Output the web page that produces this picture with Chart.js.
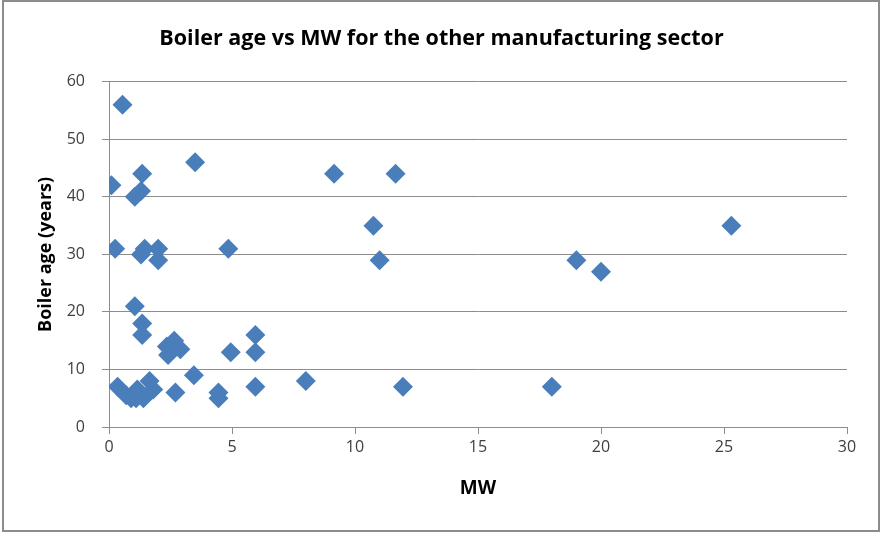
<!DOCTYPE html>
<html>
<head>
<meta charset="utf-8">
<script src="https://cdn.jsdelivr.net/npm/chart.js@4"></script>
<style>
  html, body { margin: 0; padding: 0; background: #fff; }
  #wrap { width: 883px; height: 533px; position: relative; }
</style>
</head>
<body>
<div id="wrap"><canvas id="chart" width="883" height="533"></canvas></div>
<script>
// MW (x) and boiler age in years (y)
const mw = [
  0.55, 0.1, 1.35, 1.3, 1.05, 3.5, 0.25, 1.45, 1.3, 2.0,
  2.0, 4.85, 1.05, 1.35, 1.35, 2.65, 2.35, 2.9, 2.4, 4.95,
  5.95, 5.95, 5.95, 3.45, 2.7, 4.45, 4.45, 0.35, 0.7, 0.9,
  1.1, 1.15, 1.4, 1.65, 1.8, 8, 9.15, 11.65, 10.75, 11,
  11.95, 18, 19, 20, 25.3
];
const age = [
  56, 42, 44, 41, 40, 46, 31, 31, 30, 31,
  29, 31, 21, 18, 16, 15, 14, 13.5, 12.5, 13,
  16, 13, 7, 9, 6, 6, 5, 7, 5.5, 5,
  5, 6.5, 5, 8, 6.5, 8, 44, 44, 35, 29,
  7, 7, 29, 27, 35
];
const xTicks = [0, 5, 10, 15, 20, 25, 30];
const yTicks = [0, 10, 20, 30, 40, 50, 60];

const points = mw.map((x, i) => ({ x: x, y: age[i] }));

const frame = {
  id: "frame",
  beforeDraw(chart) {
    const ctx = chart.ctx;
    ctx.save();
    ctx.fillStyle = "#fff";
    ctx.fillRect(0, 0, chart.width, chart.height);
    ctx.restore();
  },
  afterDraw(chart) {
    const ctx = chart.ctx;
    ctx.save();
    ctx.strokeStyle = "#8c8c8c";
    ctx.lineWidth = 2;
    ctx.strokeRect(3, 1, 876, 530);
    ctx.restore();
  }
};

const ctx = document.getElementById("chart").getContext("2d");
new Chart(ctx, {
  type: "scatter",
  data: {
    datasets: [{
      label: "Boiler age",
      data: points,
      pointStyle: "rectRot",
      pointRadius: 10,
      pointHoverRadius: 10,
      backgroundColor: "#4a7ebb",
      borderColor: "#4a7ebb",
      borderWidth: 0
    }]
  },
  options: {
    responsive: false,
    animation: false,
    layout: { padding: 0 },
    plugins: {
      legend: { display: false },
      tooltip: { enabled: false },
      title: {
        display: true,
        text: "Boiler age vs MW for the other manufacturing sector",
        color: "#000",
        font: { family: "Open Sans", size: 21.5, weight: "bold" },
        padding: { top: 26, bottom: 30 }
      }
    },
    scales: {
      x: {
        type: "linear",
        min: 0,
        max: 30,
        afterBuildTicks: s => { s.ticks = xTicks.map(v => ({ value: v })); },
        afterFit: s => { s.height = 106; },
        grid: { drawOnChartArea: false, drawTicks: true, tickLength: 7, color: "#8c8c8c" },
        border: { color: "#8c8c8c" },
        ticks: { color: "#404040", padding: 4, font: { family: "Open Sans", size: 16 } },
        title: {
          display: true,
          text: "MW",
          color: "#000",
          font: { family: "Open Sans", size: 19, weight: "bold" },
          padding: { top: 0, bottom: 33 }
        }
      },
      y: {
        type: "linear",
        min: 0,
        max: 60,
        afterBuildTicks: s => { s.ticks = yTicks.map(v => ({ value: v })); },
        afterFit: s => { s.width = 109; },
        grid: { color: "#8c8c8c", tickLength: 7 },
        border: { color: "#8c8c8c" },
        ticks: { color: "#404040", padding: 17, font: { family: "Open Sans", size: 16 } },
        title: {
          display: true,
          text: "Boiler age (years)",
          color: "#000",
          font: { family: "Open Sans", size: 18, weight: "bold" },
          padding: { top: 35, bottom: 0 }
        }
      },
      // empty right-hand margin, so the title centres on the whole canvas
      pad: {
        type: "linear",
        position: "right",
        display: true,
        afterFit: s => { s.width = 36; },
        grid: { display: false },
        border: { display: false },
        ticks: { display: false }
      }
    }
  },
  plugins: [frame]
});
</script>
</body>
</html>
